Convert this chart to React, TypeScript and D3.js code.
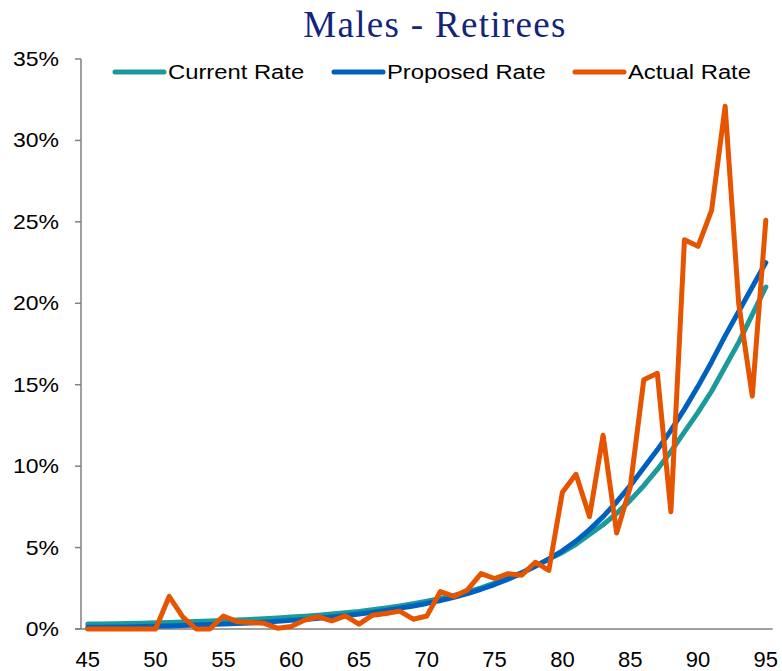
import * as d3 from "d3";
import { useEffect, useRef } from "react";

// ages 45..95
const ages = [
  45, 46, 47, 48, 49, 50, 51, 52, 53, 54, 55, 56, 57, 58, 59, 60, 61, 62, 63,
  64, 65, 66, 67, 68, 69, 70, 71, 72, 73, 74, 75, 76, 77, 78, 79, 80, 81, 82,
  83, 84, 85, 86, 87, 88, 89, 90, 91, 92, 93, 94, 95,
];

// rates in %
const currentRate = [
  0.3, 0.31, 0.32, 0.34, 0.36, 0.38, 0.4, 0.43, 0.46, 0.49, 0.52, 0.55, 0.59,
  0.63, 0.68, 0.73, 0.79, 0.85, 0.92, 1.0, 1.08, 1.18, 1.29, 1.41, 1.55, 1.7,
  1.87, 2.06, 2.28, 2.53, 2.81, 3.12, 3.47, 3.86, 4.29, 4.7, 5.2, 5.8, 6.4,
  7.1, 7.9, 8.8, 9.8, 10.9, 12.1, 13.3, 14.6, 16.1, 17.6, 19.3, 21.0,
];

const proposedRate = [
  0.1, 0.11, 0.12, 0.13, 0.15, 0.17, 0.19, 0.21, 0.24, 0.27, 0.3, 0.33, 0.37,
  0.42, 0.47, 0.53, 0.59, 0.66, 0.74, 0.82, 0.92, 1.02, 1.14, 1.27, 1.41, 1.57,
  1.75, 1.95, 2.18, 2.44, 2.73, 3.06, 3.43, 3.85, 4.3, 4.8, 5.4, 6.1, 6.9, 7.8,
  8.8, 9.9, 11.0, 12.2, 13.5, 14.9, 16.4, 18.0, 19.5, 21.0, 22.5,
];

const actualRate = [
  0, 0, 0, 0, 0, 0, 2.0, 0.75, 0, 0, 0.8, 0.45, 0.4, 0.35, 0.05, 0.15, 0.55,
  0.75, 0.5, 0.8, 0.3, 0.85, 0.95, 1.1, 0.6, 0.8, 2.3, 2.0, 2.4, 3.4, 3.1, 3.4,
  3.3, 4.1, 3.6, 8.4, 9.5, 6.9, 11.9, 5.9, 8.7, 15.3, 15.7, 7.2, 23.9, 23.5,
  25.7, 32.1, 20.0, 14.3, 25.1,
];

const yTicks = [0, 5, 10, 15, 20, 25, 30, 35];
const xTickLabels = [45, 50, 55, 60, 65, 70, 75, 80, 85, 90, 95];

const seriesNames = ["Current Rate", "Proposed Rate", "Actual Rate"];
const seriesColors = ["#1b9a9c", "#0060bf", "#e65400"];

export default function App() {
  const svgRef = useRef<SVGSVGElement | null>(null);

  useEffect(() => {
    if (!svgRef.current) return;
    document.body.style.margin = "0";

    const svg = d3.select(svgRef.current);
    svg.selectAll("*").remove();

    const width = 782;
    const height = 671;
    const axisColor = "#808080";
    const font = "Liberation Sans, Arial, sans-serif";

    const x = d3
      .scalePoint<number>()
      .domain(ages)
      .range([81, 772.6])
      .padding(0.5);

    const y = d3.scaleLinear().domain([0, 35]).range([629, 59]);

    svg.attr("width", width).attr("height", height);

    // Title
    svg
      .append("text")
      .attr("x", 435)
      .attr("y", 37)
      .attr("text-anchor", "middle")
      .attr("fill", "#13247a")
      .style("font-family", "Liberation Serif, serif")
      .style("font-size", "37px")
      .style("letter-spacing", "1.3px")
      .text("Males - Retirees");

    // Y axis
    const yAxis = svg.append("g").attr("transform", "translate(81,0)");
    yAxis
      .append("line")
      .attr("x1", 0)
      .attr("x2", 0)
      .attr("y1", y(35))
      .attr("y2", y(0))
      .attr("stroke", axisColor)
      .attr("stroke-width", 1.5);
    yAxis
      .selectAll("line.tick")
      .data(yTicks)
      .join("line")
      .attr("class", "tick")
      .attr("x1", -6)
      .attr("x2", 0)
      .attr("y1", (d) => y(d))
      .attr("y2", (d) => y(d))
      .attr("stroke", axisColor)
      .attr("stroke-width", 1.5);
    yAxis
      .selectAll("text")
      .data(yTicks)
      .join("text")
      .attr("transform", (d) => `translate(-22,${y(d)}) scale(1.15,1)`)
      .attr("dy", "0.35em")
      .attr("text-anchor", "end")
      .attr("fill", "#000")
      .style("font-family", font)
      .style("font-size", "20px")
      .text((d) => `${d}%`);

    // X axis
    svg
      .append("line")
      .attr("x1", 75)
      .attr("x2", 772.6)
      .attr("y1", y(0))
      .attr("y2", y(0))
      .attr("stroke", axisColor)
      .attr("stroke-width", 1.5);
    svg
      .append("g")
      .selectAll("text")
      .data(xTickLabels)
      .join("text")
      .attr("x", (d) => x(d)!)
      .attr("y", 667)
      .attr("text-anchor", "middle")
      .attr("fill", "#000")
      .style("font-family", font)
      .style("font-size", "22px")
      .text((d) => d);

    // Lines
    const line = d3
      .line<number>()
      .x((_, i) => x(ages[i])!)
      .y((d) => y(d));

    [currentRate, proposedRate, actualRate].forEach((data, i) => {
      svg
        .append("path")
        .datum(data)
        .attr("d", line)
        .attr("fill", "none")
        .attr("stroke", seriesColors[i])
        .attr("stroke-width", 5)
        .attr("stroke-linejoin", "round")
        .attr("stroke-linecap", "round");
    });

    // Legend
    const legendX = [115, 334, 575];
    const legend = svg
      .append("g")
      .selectAll("g")
      .data(seriesNames)
      .join("g")
      .attr("transform", (_, i) => `translate(${legendX[i]},72)`);
    legend
      .append("line")
      .attr("x1", 0)
      .attr("x2", 49)
      .attr("stroke", (_, i) => seriesColors[i])
      .attr("stroke-width", 5)
      .attr("stroke-linecap", "round");
    legend
      .append("text")
      .attr("transform", "translate(53,6.5) scale(1.19,1)")
      .attr("fill", "#000")
      .style("font-family", font)
      .style("font-size", "20px")
      .text((d) => d);
  }, []);

  return <svg ref={svgRef}></svg>;
}
